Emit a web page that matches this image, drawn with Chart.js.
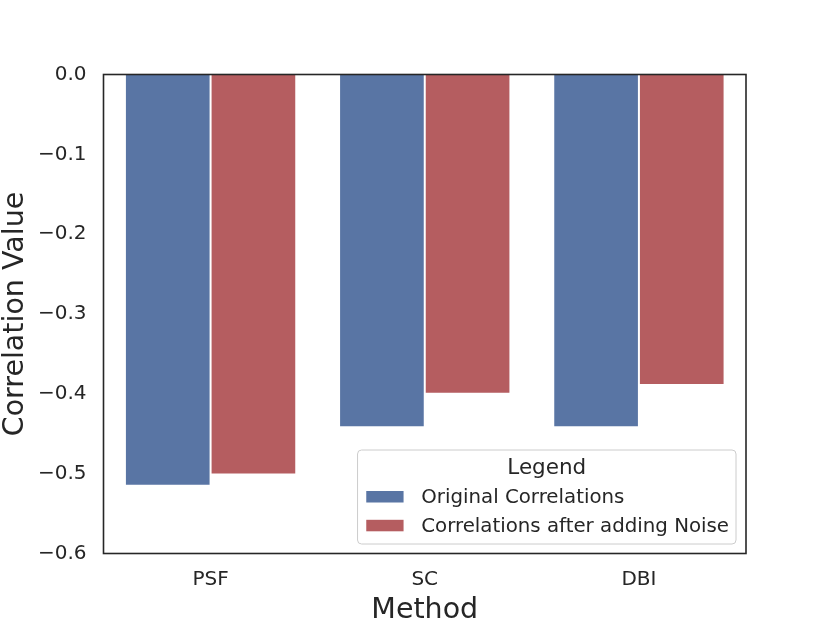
<!DOCTYPE html>
<html lang="en">
    <head>
        <meta charset="UTF-8">
        <title>Correlation Value by Method</title>
        <script src="https://cdn.jsdelivr.net/npm/chart.js@4.4.1/dist/chart.umd.min.js"></script>
        <style>
            html, body { margin: 0; padding: 0; background: #fff; }
            #wrap { width: 830px; height: 623px; }
        </style>
    </head>
    <body>
        <div id="wrap">
            <canvas id="corrChart" width="830" height="623"></canvas>
        </div>

        <script>
            const methods = ['PSF', 'SC', 'DBI']
            const originalCorr = [-0.515, -0.442, -0.442]
            const noisyCorr = [-0.501, -0.400, -0.389]
            const yTickLabels = ['\u22120.6', '\u22120.5', '\u22120.4', '\u22120.3', '\u22120.2', '\u22120.1', '0.0']

            const ink = '#262626'
            const font = 'DejaVu Sans'

            // frame round the plot, like the matplotlib spines
            const frame = {
                id: 'frame',
                afterDatasetsDraw(chart) {
                    const a = chart.chartArea
                    const ctx = chart.ctx
                    ctx.save()
                    ctx.strokeStyle = ink
                    ctx.lineWidth = 1.6
                    ctx.strokeRect(a.left, a.top, a.right - a.left, a.bottom - a.top)
                    ctx.restore()
                }
            }

            // legend box in the lower right corner of the plot
            const cornerLegend = {
                id: 'cornerLegend',
                afterDraw(chart) {
                    const a = chart.chartArea
                    const ctx = chart.ctx
                    const sets = chart.data.datasets
                    ctx.save()
                    ctx.font = '19.8px "' + font + '"'
                    let maxW = 0
                    sets.forEach(ds => { maxW = Math.max(maxW, ctx.measureText(ds.label).width) })
                    const w = 8.7 + 37.3 + 17.7 + maxW + 7
                    const h = 94
                    const right = a.right - 10
                    const bottom = a.bottom - 9.5
                    const left = right - w
                    const top = bottom - h

                    ctx.beginPath()
                    ctx.roundRect(left, top, w, h, 4)
                    ctx.fillStyle = 'rgba(255,255,255,0.8)'
                    ctx.fill()
                    ctx.strokeStyle = '#cccccc'
                    ctx.lineWidth = 1
                    ctx.stroke()

                    ctx.fillStyle = ink
                    ctx.textBaseline = 'alphabetic'
                    ctx.textAlign = 'center'
                    ctx.font = '21.5px "' + font + '"'
                    ctx.fillText('Legend', left + w / 2, top + 24)

                    ctx.textAlign = 'left'
                    ctx.font = '19.8px "' + font + '"'
                    sets.forEach((ds, i) => {
                        const base = top + 53 + i * 28.8
                        ctx.fillStyle = ds.backgroundColor
                        ctx.fillRect(left + 8.7, base - 12, 37.3, 11.5)
                        ctx.fillStyle = ink
                        ctx.fillText(ds.label, left + 63.7, base)
                    })
                    ctx.restore()
                }
            }

            new Chart(document.getElementById('corrChart'), {
                type: 'bar',
                data: {
                    labels: methods,
                    datasets: [
                        {
                            label: 'Original Correlations',
                            data: originalCorr,
                            backgroundColor: '#5975a4',
                            borderColor: '#ffffff',
                            borderWidth: 1
                        },
                        {
                            label: 'Correlations after adding Noise',
                            data: noisyCorr,
                            backgroundColor: '#b55d60',
                            borderColor: '#ffffff',
                            borderWidth: 1
                        }
                    ]
                },
                options: {
                    responsive: false,
                    animation: false,
                    devicePixelRatio: 1,
                    categoryPercentage: 0.8,
                    barPercentage: 1.0,
                    layout: {padding: {top: 74.5, right: 84, left: 0, bottom: 0}},
                    plugins: {legend: {display: false}, tooltip: {enabled: false}},
                    scales: {
                        x: {
                            grid: {display: false, drawTicks: false},
                            border: {display: false},
                            ticks: {color: ink, font: {family: font, size: 20}, padding: 14},
                            title: {display: true, text: 'Method', color: ink, font: {family: font, size: 28.5}, padding: {top: 0, bottom: -5}},
                            afterFit(scale) { scale.height = 69.5 }
                        },
                        y: {
                            min: -0.6,
                            max: 0,
                            ticks: {
                                stepSize: 0.1,
                                color: ink,
                                font: {family: font, size: 20},
                                padding: 17,
                                callback: (v, i) => yTickLabels[i]
                            },
                            grid: {display: false, drawTicks: false},
                            border: {display: false},
                            title: {display: true, text: 'Correlation Value', color: ink, font: {family: font, size: 28.5}, padding: {top: -1.5, bottom: 0}},
                            afterFit(scale) { scale.width = 103.5 }
                        }
                    }
                },
                plugins: [frame, cornerLegend]
            })
        </script>
    </body>
</html>
